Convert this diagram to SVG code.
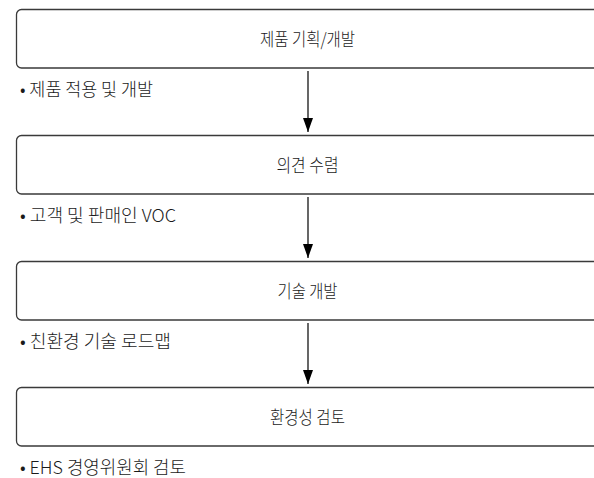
<svg xmlns="http://www.w3.org/2000/svg" width="594" height="478" viewBox="0 0 594 478">
<defs>
<marker id="ah" markerWidth="14" markerHeight="10" refX="14" refY="5" orient="auto" markerUnits="userSpaceOnUse" viewBox="0 0 14 10">
<path d="M0,0 L14,5 L0,10 Z" fill="#000"/>
</marker>
</defs>
<style>
.box{fill:#fff;stroke:#3a3a3a;stroke-width:1.3}
.lbl{font-family:"Noto Sans CJK KR","Noto Sans",sans-serif;font-size:18px;font-weight:300;fill:#1a1a1a;text-anchor:middle}
.note{font-family:"Noto Sans CJK KR","Noto Sans",sans-serif;font-size:18px;font-weight:300;fill:#1a1a1a}
.conn{stroke:#000;stroke-width:1.2;fill:none}
</style>
<rect width="594" height="478" fill="#fff"/>
<g id="connectors">
<line class="conn" x1="308" y1="71" x2="308" y2="132" marker-end="url(#ah)"/>
<line class="conn" x1="308" y1="197" x2="308" y2="258" marker-end="url(#ah)"/>
<line class="conn" x1="308" y1="323" x2="308" y2="384" marker-end="url(#ah)"/>
</g>
<g id="node1">
<rect class="box" x="16.5" y="9.5" width="584" height="58.5" rx="5"/>
<text class="lbl" x="307.5" y="46" textLength="95" lengthAdjust="spacingAndGlyphs">제품 기획/개발</text>
</g>
<text class="note" x="20" y="96" textLength="133" lengthAdjust="spacingAndGlyphs">• 제품 적용 및 개발</text>
<g id="node2">
<rect class="box" x="16.5" y="135.5" width="584" height="58.5" rx="5"/>
<text class="lbl" x="307.5" y="172" textLength="62" lengthAdjust="spacingAndGlyphs">의견 수렴</text>
</g>
<text class="note" x="20" y="222" textLength="156" lengthAdjust="spacingAndGlyphs">• 고객 및 판매인 VOC</text>
<g id="node3">
<rect class="box" x="16.5" y="261.5" width="584" height="58.5" rx="5"/>
<text class="lbl" x="307.5" y="298" textLength="60" lengthAdjust="spacingAndGlyphs">기술 개발</text>
</g>
<text class="note" x="20" y="348" textLength="151" lengthAdjust="spacingAndGlyphs">• 친환경 기술 로드맵</text>
<g id="node4">
<rect class="box" x="16.5" y="387.5" width="584" height="58.5" rx="5"/>
<text class="lbl" x="307.5" y="424" textLength="75" lengthAdjust="spacingAndGlyphs">환경성 검토</text>
</g>
<text class="note" x="20" y="474" textLength="166" lengthAdjust="spacingAndGlyphs">• EHS 경영위원회 검토</text>
</svg>
